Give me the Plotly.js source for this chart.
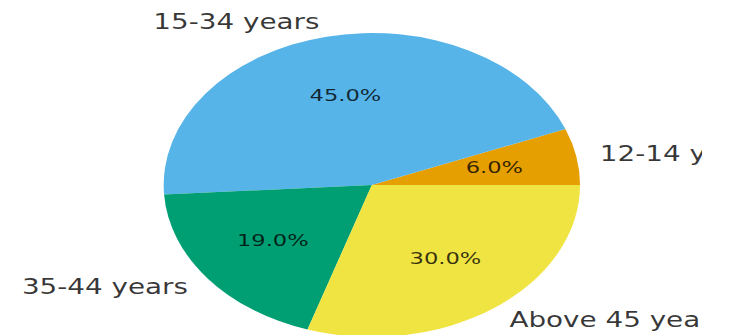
<!DOCTYPE html>
<html>
<head>
<meta charset="utf-8">
<script src="https://cdn.plot.ly/plotly-3.0.1.min.js"></script>
<style>
  html, body { margin: 0; padding: 0; background: #fff; }
  #frame { width: 702px; height: 335px; overflow: hidden; position: relative; }
  #chart { width: 533px; height: 350px; transform: scaleX(1.3696); transform-origin: 0 0; }
</style>
</head>
<body>
<div id="frame"><div id="chart"></div></div>
<script>
// Age groups and their shares
const ageGroups = ['12-14 years', '15-34 years', '35-44 years', 'Above 45 years'];
const shares = [6, 45, 19, 30];
const sliceColors = ['#E69F00', '#56B4E9', '#009E73', '#F0E442'];

// Plot geometry (unscaled width; the drawing is stretched horizontally by CSS)
const W = 533, H = 350;
const cx = 271.5, cyTop = 185, R = 152;
const cyBottom = H - cyTop;

const total = shares.reduce((a, b) => a + b, 0);
const textColor = 'rgba(0,0,0,0.78)';
const fontFamily = 'DejaVu Sans, sans-serif';

// Labels sit just outside the rim, percentages at 0.6 of the radius,
// both at each slice's mid-angle (slices run counterclockwise from 3 o'clock).
const annotations = [];
let start = 0;
shares.forEach((v, i) => {
  const sweep = v / total * 360;
  const mid = (start + sweep / 2) * Math.PI / 180;
  start += sweep;
  const c = Math.cos(mid), s = Math.sin(mid);
  annotations.push({
    xref: 'paper', yref: 'paper',
    x: (cx + 1.1 * R * c) / W, y: (cyBottom + 1.1 * R * s) / H,
    xanchor: c >= 0 ? 'left' : 'right', yanchor: 'middle',
    text: ageGroups[i], showarrow: false,
    font: { family: fontFamily, size: 20.3, color: textColor }
  });
  annotations.push({
    xref: 'paper', yref: 'paper',
    x: (cx + 0.6 * R * c) / W, y: (cyBottom + 0.6 * R * s) / H,
    xanchor: 'center', yanchor: 'middle',
    text: (v / total * 100).toFixed(1) + '%', showarrow: false,
    font: { family: fontFamily, size: 16.5, color: textColor }
  });
});

// Plotly's counterclockwise mode ends the first slice at the rotation angle,
// so shift by the first slice's sweep to start it at 3 o'clock.
const firstSweep = shares[0] / total * 360;

const trace = {
  type: 'pie',
  labels: ageGroups,
  values: shares,
  marker: { colors: sliceColors, line: { width: 0 } },
  sort: false,
  direction: 'counterclockwise',
  rotation: 90 - firstSweep,
  textinfo: 'none',
  hoverinfo: 'none',
  domain: { x: [(cx - R) / W, (cx + R) / W], y: [(cyBottom - R) / H, (cyBottom + R) / H] }
};

Plotly.newPlot('chart', [trace], {
  width: W, height: H,
  margin: { l: 0, r: 0, t: 0, b: 0 },
  showlegend: false,
  paper_bgcolor: '#fff',
  annotations: annotations
}, { displayModeBar: false, staticPlot: true });
</script>
</body>
</html>
